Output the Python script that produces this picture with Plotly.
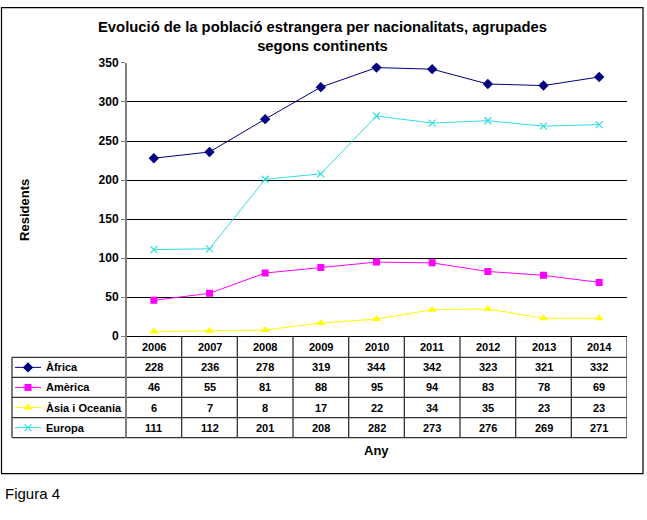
import plotly.graph_objects as go

# ── Dades ────────────────────────────────────────────────────────────
anys = ['2006', '2007', '2008', '2009', '2010', '2011', '2012', '2013', '2014']
africa = [228, 236, 278, 319, 344, 342, 323, 321, 332]
america = [46, 55, 81, 88, 95, 94, 83, 78, 69]
asia_oceania = [6, 7, 8, 17, 22, 34, 35, 23, 23]
europa = [111, 112, 201, 208, 282, 273, 276, 269, 271]

series = [
    ('Àfrica', africa, '#000080', 'diamond', 8),
    ('Amèrica', america, '#FF00FF', 'square', 7),
    ('Àsia i Oceania', asia_oceania, '#FFFF00', 'triangle-up', 8),
    ('Europa', europa, '#33DDDD', 'x-thin', 7),
]

W, H = 647, 520
# la captura desplaça la figura ~8 px avall i l'escala 0.97 en vertical
OFF_Y, SCALE_Y = 8, 0.97
FONT = 'Arial, Liberation Sans, sans-serif'


def px(x):
    return x / W


def py(y):
    # y en pixels de la captura -> coordenada paper
    return 1 - (y / SCALE_Y - OFF_Y) / H


# geometria (pixels de la captura)
PLOT_L, PLOT_R, PLOT_T, PLOT_B = 126, 627, 63.5, 336
TAB_L = 12
ROW_H = 20
HEAD_B = 357
row_tops = [HEAD_B + i * ROW_H for i in range(len(series))]
TAB_B = HEAD_B + ROW_H * len(series)

fig = go.Figure()

for name, vals, color, symbol, size in series:
    fig.add_trace(go.Scatter(
        x=anys, y=vals, mode='lines+markers', name=name,
        line=dict(color=color, width=1),
        marker=dict(symbol=symbol, size=size, color=color,
                    line=dict(color=color, width=1.2 if symbol == 'x-thin' else 0)),
        xaxis='x', yaxis='y', showlegend=False,
    ))

# claus de llegenda dins la taula (eix auxiliar en pixels)
for (name, vals, color, symbol, size), top in zip(series, row_tops):
    yc = top + ROW_H / 2
    fig.add_trace(go.Scatter(
        x=[15, 41], y=[yc, yc], mode='lines',
        line=dict(color=color, width=1),
        xaxis='x2', yaxis='y2', showlegend=False, hoverinfo='skip',
    ))
    fig.add_trace(go.Scatter(
        x=[28], y=[yc], mode='markers',
        marker=dict(symbol=symbol, size=size, color=color,
                    line=dict(color=color, width=1.2 if symbol == 'x-thin' else 0)),
        xaxis='x2', yaxis='y2', showlegend=False, hoverinfo='skip',
    ))

shapes = []
line_dark = dict(color='#333333', width=1.3)

# marc exterior
shapes.append(dict(type='rect', xref='paper', yref='paper',
                   x0=px(1.5), x1=px(643), y0=py(8.4), y1=py(473),
                   line=dict(color='black', width=1.2)))

# línies horitzontals de la taula
for yy in [HEAD_B] + [t + ROW_H for t in row_tops]:
    shapes.append(dict(type='line', xref='paper', yref='paper',
                       x0=px(TAB_L), x1=px(PLOT_R), y0=py(yy), y1=py(yy),
                       line=line_dark))
# vora esquerra de la taula
shapes.append(dict(type='line', xref='paper', yref='paper',
                   x0=px(TAB_L), x1=px(TAB_L), y0=py(HEAD_B), y1=py(TAB_B),
                   line=line_dark))
# separadors de columna (posicions de l'eix de categories)
for i in range(1, len(anys) + 1):
    shapes.append(dict(type='line', xref='x', yref='paper',
                       x0=i - 0.5, x1=i - 0.5, y0=py(PLOT_B), y1=py(TAB_B),
                       line=line_dark))
# eix vertical que continua per la taula
shapes.append(dict(type='line', xref='paper', yref='paper',
                   x0=px(PLOT_L), x1=px(PLOT_L), y0=py(PLOT_T), y1=py(TAB_B),
                   line=dict(color='#808080', width=2)))

annotations = []
bold = dict(family=FONT, size=11, color='black', weight='bold')

# capçalera d'anys (x = índex de categoria)
for i, a in enumerate(anys):
    annotations.append(dict(x=i, y=py((PLOT_B + HEAD_B) / 2), xref='x', yref='paper',
                            text=a, showarrow=False, font=bold,
                            xanchor='center', yanchor='middle'))

# files de la taula
for (name, vals, color, symbol, size), top in zip(series, row_tops):
    yc = py(top + ROW_H / 2)
    annotations.append(dict(x=px(44), y=yc, xref='paper', yref='paper',
                            text=name, showarrow=False, font=bold,
                            xanchor='left', yanchor='middle'))
    for i, v in enumerate(vals):
        annotations.append(dict(x=i, y=yc, xref='x', yref='paper',
                                text=str(v), showarrow=False, font=bold,
                                xanchor='center', yanchor='middle'))

# títol
annotations.append(dict(
    x=px(322), y=py(37.5), xref='paper', yref='paper',
    text='Evolució de la població estrangera per nacionalitats, agrupades<br>segons continents',
    showarrow=False, align='center', xanchor='center', yanchor='middle',
    font=dict(family=FONT, size=14.8, color='black', weight='bold'),
))
# títols d'eixos
annotations.append(dict(
    x=px(25), y=py(210), xref='paper', yref='paper', text='Residents',
    textangle=-90, showarrow=False, xanchor='center', yanchor='middle',
    font=dict(family=FONT, size=13, color='black', weight='bold'),
))
annotations.append(dict(
    x=px((PLOT_L + PLOT_R) / 2), y=py(450), xref='paper', yref='paper', text='Any',
    showarrow=False, xanchor='center', yanchor='middle',
    font=dict(family=FONT, size=13, color='black', weight='bold'),
))
# peu
annotations.append(dict(
    x=px(3), y=py(493), xref='paper', yref='paper', text='Figura 4',
    showarrow=False, xanchor='left', yanchor='middle',
    font=dict(family=FONT, size=15, color='black'),
))

fig.update_layout(
    width=W, height=H,
    margin=dict(l=0, r=0, t=0, b=0),
    paper_bgcolor='white', plot_bgcolor='rgba(0,0,0,0)',
    font=dict(family=FONT, color='black'),
    xaxis=dict(domain=[px(PLOT_L), px(PLOT_R)], type='category',
               range=[-0.5, len(anys) - 0.5], showticklabels=False,
               showgrid=False, zeroline=False, showline=False, ticks='',
               anchor='y', fixedrange=True),
    yaxis=dict(domain=[py(PLOT_B), py(PLOT_T)], range=[0, 350],
               tickvals=list(range(0, 351, 50)), showgrid=True,
               gridcolor='black', gridwidth=1, zeroline=True,
               zerolinecolor='black', zerolinewidth=1.3,
               showline=False, ticks='outside', ticklen=4, tickcolor='#808080',
               tickfont=dict(family=FONT, size=12, color='black', weight='bold'),
               anchor='x', fixedrange=True),
    xaxis2=dict(domain=[0, 1], range=[0, W], visible=False, anchor='y2',
                fixedrange=True),
    yaxis2=dict(domain=[0, 1],
                range=[SCALE_Y * (H + OFF_Y), SCALE_Y * OFF_Y],
                visible=False, anchor='x2', fixedrange=True),
    shapes=shapes,
    annotations=annotations,
)

fig.write_html(
    'out.html',
    config={'displayModeBar': False},
    post_script="document.body.style.margin='0';",
)
